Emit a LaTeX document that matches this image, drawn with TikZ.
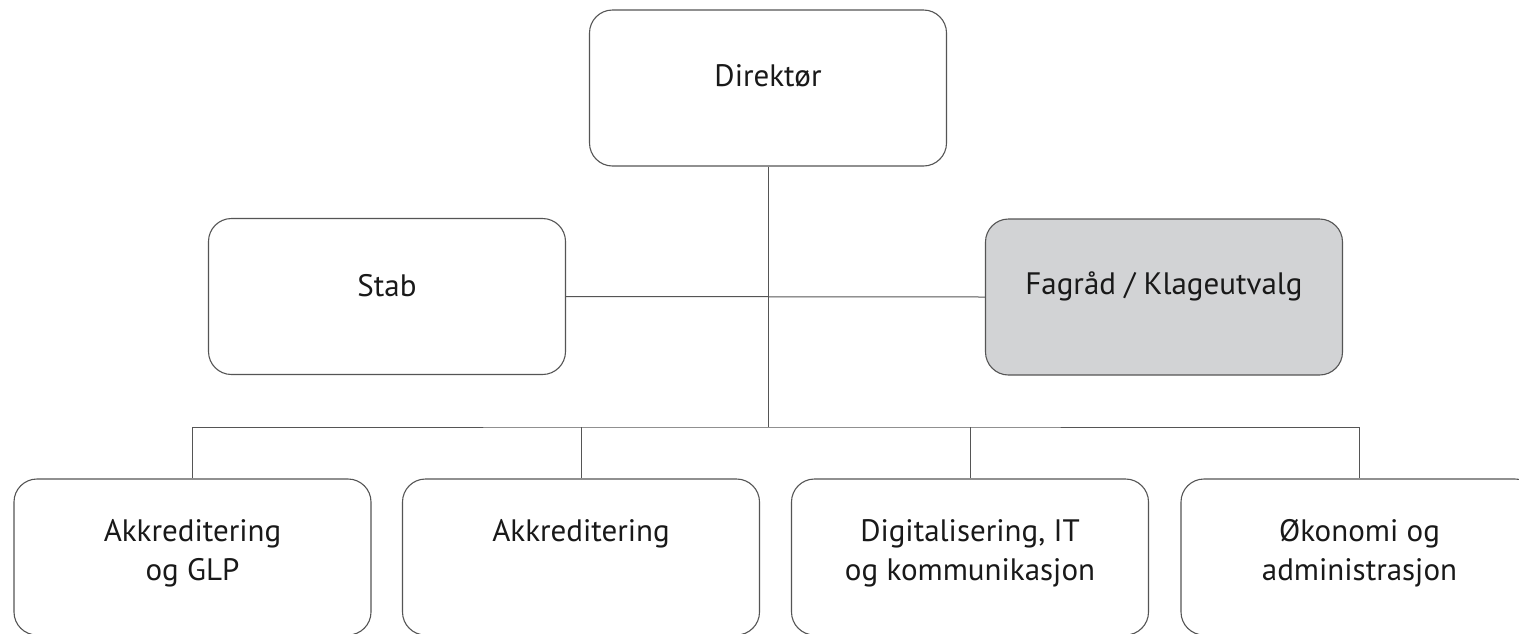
\documentclass[tikz,border=0pt]{standalone}
\usepackage{fontspec}
\setmainfont{PT Sans}
\definecolor{linec}{HTML}{555555}
\definecolor{grayfill}{HTML}{D2D3D5}
\newcommand{\twoline}[2]{\begin{tabular}[t]{@{}c@{}}#1\\#2\end{tabular}}
\begin{document}
\begin{tikzpicture}[x=1pt,y=-1pt,
  orgbox/.style={draw=linec, line width=1.1pt, rounded corners=23pt, minimum width=357pt, minimum height=156pt, inner sep=0pt, fill=white},
  lbl/.style={anchor=base, inner sep=0pt, font=\fontsize{31}{39}\selectfont, text=black!90},
  conn/.style={draw=linec, line width=1pt}]
\useasboundingbox (0,0) rectangle (1519,633);
\clip (0,0) rectangle (1519,633);
\fill[white] (0,0) rectangle (1519,633);
\node[orgbox] (dir) at (768,88) {};
\node[orgbox] (stab) at (387,296.5) {};
\node[orgbox, fill=grayfill] (fag) at (1164,297) {};
\node[orgbox] (b1) at (192.5,557) {};
\node[orgbox] (b2) at (581,557) {};
\node[orgbox] (b3) at (970,557) {};
\node[orgbox] (b4) at (1359.5,557) {};
\coordinate (hub) at (768,427);
\draw[conn] (dir.south) -- (hub);
\draw[conn] (stab.east) -- (fag.west);
\draw[conn] (b1.north) |- (hub) -| (b4.north);
\draw[conn] (b2.north) -- (b2.north |- hub);
\draw[conn] (b3.north) -- (b3.north |- hub);
\node[lbl] (dirT) at (768,86) {Direktør};
\node[lbl] (stabT) at (387,296) {Stab};
\node[lbl] (fagT) at (1164,294) {Fagråd / Klageutvalg};
\node[lbl] (b1T) at (192.5,541) {\twoline{Akkreditering}{og GLP}};
\node[lbl] (b2T) at (581,541) {Akkreditering};
\node[lbl] (b3T) at (970,541) {\twoline{Digitalisering, IT}{og kommunikasjon}};
\node[lbl] (b4T) at (1359.5,541) {\twoline{Økonomi og}{administrasjon}};
\end{tikzpicture}
\end{document}
